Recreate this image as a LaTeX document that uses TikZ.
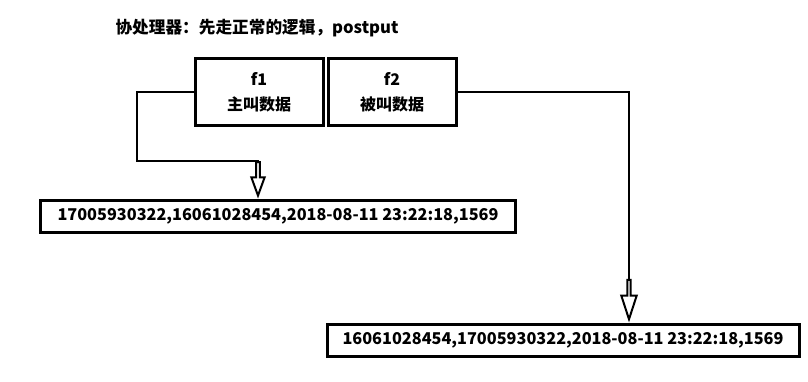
\documentclass[tikz,border=0pt]{standalone}
\usepackage{fontspec}
\setmainfont{Noto Sans CJK SC}
\usetikzlibrary{positioning,shapes.arrows}

\tikzset{
  cell/.style={draw, line width=2.25pt, minimum width=96pt, minimum height=50.5pt, font=\bfseries\fontsize{12}{19}\selectfont, align=center, inner sep=0pt},
  record/.style={draw, line width=2.25pt, minimum height=24pt, inner sep=0pt, font=\bfseries\fontsize{12.2}{14}\selectfont},
  wire/.style={line width=1.9pt},
  hollow/.style={draw, line width=1.5pt, single arrow, single arrow head indent=0pt, inner sep=0pt, rotate=-90}
}

\begin{document}
\begin{tikzpicture}[x=0.75pt, y=-0.75pt]
  \useasboundingbox (0,0) rectangle (808,382);
  \node (title) at (257,28) {\bfseries\fontsize{12.5}{14}\selectfont 协处理器：先走正常的逻辑，postput};
  \node[cell] (f1) at (259,92) {f1\\主叫数据};
  \node[cell, right=1.5pt of f1] (f2) {f2\\被叫数据};
  \node[record, minimum width=356pt] (rec1) at (278,216) {17005930322,16061028454,2018-08-11 23:22:18,1569};
  \node[record, minimum width=354pt] (rec2) at (563,340) {16061028454,17005930322,2018-08-11 23:22:18,1569};

  \coordinate (bendA) at (137,161);
  \coordinate (dropA) at (258,161);
  \coordinate (dropB) at (629,278);
  \node[hollow, minimum width=10pt, minimum height=25pt, single arrow head extend=2pt, single arrow tip angle=40, anchor=tip] (a1) at (rec1.north -| dropA) {};
  \node[hollow, minimum width=11.5pt, minimum height=29.5pt, single arrow head extend=2.6pt, single arrow tip angle=36, anchor=tip] (a2) at (rec2.north -| dropB) {};

  \draw[wire] (f1.west) -| (bendA) -| (a1.tail);
  \draw[wire] (f2.east) -| (a2.tail);
\end{tikzpicture}
\end{document}
